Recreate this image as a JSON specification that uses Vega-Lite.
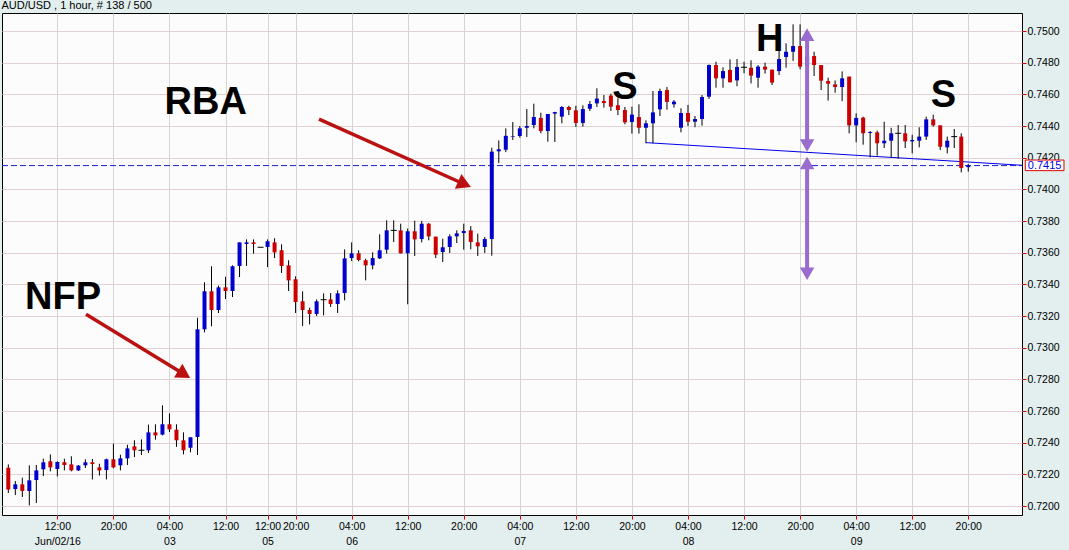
{
"$schema":"https://vega.github.io/schema/vega-lite/v6.json",
"width":1020,"height":502,
"autosize":{"type":"none"},
"padding":{"left":2,"top":13,"right":47,"bottom":35},
"background":"#e3eeee",
"title":{"text":"AUD/USD , 1 hour, # 138 / 500","anchor":"start","fontSize":11,"fontWeight":"normal","font":"Liberation Sans","offset":2,"color":"#000000"},
"config":{"view":{"stroke":"#000000","strokeWidth":1,"fill":"#fcfcfc"},
"axis":{"domain":false,"grid":true,"gridWidth":1,"tickColor":"#e00000","tickSize":4,"labelFont":"Liberation Sans","labelFontSize":10.5,"labelColor":"#000000","labelOverlap":false}},
"datasets":{"candles":[
{"i":0,"o":0.72242,"h":0.72263,"l":0.72082,"c":0.72105},
{"i":1,"o":0.72107,"h":0.72158,"l":0.72069,"c":0.72137},
{"i":2,"o":0.72137,"h":0.72179,"l":0.72057,"c":0.72095},
{"i":3,"o":0.72095,"h":0.72257,"l":0.72004,"c":0.72162},
{"i":4,"o":0.72164,"h":0.72259,"l":0.72019,"c":0.72225},
{"i":5,"o":0.72232,"h":0.72299,"l":0.72189,"c":0.72276},
{"i":6,"o":0.72282,"h":0.72326,"l":0.72219,"c":0.72244},
{"i":7,"o":0.72234,"h":0.72282,"l":0.72187,"c":0.72278},
{"i":8,"o":0.72276,"h":0.72299,"l":0.72225,"c":0.72259},
{"i":9,"o":0.72263,"h":0.72314,"l":0.72219,"c":0.72225},
{"i":10,"o":0.72225,"h":0.72259,"l":0.72221,"c":0.72255},
{"i":11,"o":0.72257,"h":0.72295,"l":0.7224,"c":0.72276},
{"i":12,"o":0.72276,"h":0.72297,"l":0.72168,"c":0.72265},
{"i":13,"o":0.72244,"h":0.72267,"l":0.72192,"c":0.72225},
{"i":14,"o":0.72227,"h":0.72299,"l":0.72168,"c":0.72295},
{"i":15,"o":0.72295,"h":0.72394,"l":0.72238,"c":0.72244},
{"i":16,"o":0.72257,"h":0.72324,"l":0.72225,"c":0.72301},
{"i":17,"o":0.72301,"h":0.72387,"l":0.72259,"c":0.72364},
{"i":18,"o":0.72377,"h":0.72415,"l":0.72309,"c":0.72352},
{"i":19,"o":0.72352,"h":0.72421,"l":0.72322,"c":0.72352},
{"i":20,"o":0.72352,"h":0.72514,"l":0.72335,"c":0.72465},
{"i":21,"o":0.72465,"h":0.72516,"l":0.72419,"c":0.72446},
{"i":22,"o":0.72451,"h":0.72636,"l":0.72446,"c":0.72516},
{"i":23,"o":0.72516,"h":0.72585,"l":0.72467,"c":0.72484},
{"i":24,"o":0.72482,"h":0.72516,"l":0.72373,"c":0.72415},
{"i":25,"o":0.72415,"h":0.72465,"l":0.72326,"c":0.72352},
{"i":26,"o":0.72368,"h":0.72434,"l":0.72339,"c":0.72434},
{"i":27,"o":0.72436,"h":0.73189,"l":0.72322,"c":0.73116},
{"i":28,"o":0.73116,"h":0.73413,"l":0.73097,"c":0.73356},
{"i":29,"o":0.73356,"h":0.73514,"l":0.73135,"c":0.73238},
{"i":30,"o":0.73238,"h":0.73392,"l":0.73219,"c":0.73381},
{"i":31,"o":0.73381,"h":0.73448,"l":0.73307,"c":0.73358},
{"i":32,"o":0.73358,"h":0.7352,"l":0.7332,"c":0.73514},
{"i":33,"o":0.73516,"h":0.73665,"l":0.73446,"c":0.73665},
{"i":34,"o":0.73655,"h":0.73684,"l":0.73516,"c":0.73665},
{"i":35,"o":0.73665,"h":0.73684,"l":0.73594,"c":0.73655},
{"i":36,"o":0.73634,"h":0.73634,"l":0.73634,"c":0.73634},
{"i":37,"o":0.73636,"h":0.73684,"l":0.73509,"c":0.73672},
{"i":38,"o":0.73665,"h":0.73691,"l":0.73566,"c":0.73602},
{"i":39,"o":0.73615,"h":0.73653,"l":0.73472,"c":0.73516},
{"i":40,"o":0.7352,"h":0.73552,"l":0.73358,"c":0.73425},
{"i":41,"o":0.73432,"h":0.73451,"l":0.73219,"c":0.73288},
{"i":42,"o":0.73293,"h":0.73356,"l":0.73137,"c":0.73238},
{"i":43,"o":0.73238,"h":0.73253,"l":0.73147,"c":0.73213},
{"i":44,"o":0.73213,"h":0.73305,"l":0.732,"c":0.73293},
{"i":45,"o":0.73303,"h":0.73343,"l":0.73204,"c":0.73303},
{"i":46,"o":0.73305,"h":0.73345,"l":0.73257,"c":0.73276},
{"i":47,"o":0.73276,"h":0.73362,"l":0.73219,"c":0.73343},
{"i":48,"o":0.73345,"h":0.73621,"l":0.73299,"c":0.73564},
{"i":49,"o":0.73566,"h":0.73665,"l":0.73547,"c":0.73596},
{"i":50,"o":0.73596,"h":0.73615,"l":0.73545,"c":0.73554},
{"i":51,"o":0.73552,"h":0.73562,"l":0.73425,"c":0.7352},
{"i":52,"o":0.7352,"h":0.73602,"l":0.73495,"c":0.73566},
{"i":53,"o":0.73564,"h":0.73716,"l":0.7356,"c":0.73615},
{"i":54,"o":0.73619,"h":0.73804,"l":0.73594,"c":0.73741},
{"i":55,"o":0.73741,"h":0.73804,"l":0.73667,"c":0.73741},
{"i":56,"o":0.73741,"h":0.73783,"l":0.73594,"c":0.73596},
{"i":57,"o":0.73596,"h":0.73752,"l":0.73274,"c":0.73735},
{"i":58,"o":0.73735,"h":0.73802,"l":0.73579,"c":0.73684},
{"i":59,"o":0.73686,"h":0.738,"l":0.73665,"c":0.73783},
{"i":60,"o":0.73783,"h":0.73787,"l":0.73678,"c":0.73703},
{"i":61,"o":0.73701,"h":0.73701,"l":0.73566,"c":0.73587},
{"i":62,"o":0.73604,"h":0.73688,"l":0.73541,"c":0.73634},
{"i":63,"o":0.73636,"h":0.73716,"l":0.73598,"c":0.73703},
{"i":64,"o":0.73703,"h":0.73741,"l":0.73661,"c":0.73722},
{"i":65,"o":0.73724,"h":0.73783,"l":0.73619,"c":0.73737},
{"i":66,"o":0.73741,"h":0.73768,"l":0.73621,"c":0.73667},
{"i":67,"o":0.73665,"h":0.7372,"l":0.73579,"c":0.7364},
{"i":68,"o":0.73636,"h":0.73699,"l":0.73598,"c":0.73686},
{"i":69,"o":0.73686,"h":0.74263,"l":0.73581,"c":0.74238},
{"i":70,"o":0.7424,"h":0.74309,"l":0.74166,"c":0.74253},
{"i":71,"o":0.7425,"h":0.74385,"l":0.74235,"c":0.74338},
{"i":72,"o":0.74333,"h":0.74425,"l":0.74312,"c":0.74337},
{"i":73,"o":0.74337,"h":0.744,"l":0.74326,"c":0.74385},
{"i":74,"o":0.74389,"h":0.74507,"l":0.74331,"c":0.744},
{"i":75,"o":0.74406,"h":0.74541,"l":0.74385,"c":0.74457},
{"i":76,"o":0.74451,"h":0.74484,"l":0.74354,"c":0.74368},
{"i":77,"o":0.74368,"h":0.74476,"l":0.74301,"c":0.74476},
{"i":78,"o":0.74478,"h":0.7449,"l":0.74299,"c":0.74488},
{"i":79,"o":0.74459,"h":0.74526,"l":0.74417,"c":0.7452},
{"i":80,"o":0.7452,"h":0.74528,"l":0.74469,"c":0.74501},
{"i":81,"o":0.74499,"h":0.74528,"l":0.74394,"c":0.74419},
{"i":82,"o":0.74419,"h":0.74531,"l":0.74396,"c":0.74507},
{"i":83,"o":0.74509,"h":0.74558,"l":0.74495,"c":0.74539},
{"i":84,"o":0.74543,"h":0.74638,"l":0.7452,"c":0.74573},
{"i":85,"o":0.74558,"h":0.74596,"l":0.74516,"c":0.74545},
{"i":86,"o":0.74592,"h":0.74604,"l":0.74495,"c":0.74522},
{"i":87,"o":0.74531,"h":0.74575,"l":0.74469,"c":0.74501},
{"i":88,"o":0.74501,"h":0.7452,"l":0.74411,"c":0.74423},
{"i":89,"o":0.74425,"h":0.74522,"l":0.74352,"c":0.74472},
{"i":90,"o":0.74457,"h":0.74537,"l":0.74352,"c":0.74389},
{"i":91,"o":0.74389,"h":0.74436,"l":0.74291,"c":0.74417},
{"i":92,"o":0.74417,"h":0.74621,"l":0.74291,"c":0.74486},
{"i":93,"o":0.74505,"h":0.74636,"l":0.74463,"c":0.74621},
{"i":94,"o":0.74627,"h":0.74646,"l":0.74503,"c":0.74552},
{"i":95,"o":0.74537,"h":0.74564,"l":0.74516,"c":0.74554},
{"i":96,"o":0.74389,"h":0.74512,"l":0.7436,"c":0.74482},
{"i":97,"o":0.74482,"h":0.74533,"l":0.744,"c":0.74427},
{"i":98,"o":0.74427,"h":0.74463,"l":0.74392,"c":0.74444},
{"i":99,"o":0.74444,"h":0.74596,"l":0.74402,"c":0.74583},
{"i":100,"o":0.74585,"h":0.74789,"l":0.74571,"c":0.74785},
{"i":101,"o":0.74785,"h":0.74806,"l":0.74642,"c":0.74701},
{"i":102,"o":0.74701,"h":0.74771,"l":0.74642,"c":0.74747},
{"i":103,"o":0.74754,"h":0.74821,"l":0.74676,"c":0.74676},
{"i":104,"o":0.74688,"h":0.74823,"l":0.74651,"c":0.74773},
{"i":105,"o":0.74771,"h":0.74806,"l":0.74733,"c":0.74771},
{"i":106,"o":0.74768,"h":0.74815,"l":0.74669,"c":0.74718},
{"i":107,"o":0.74705,"h":0.74785,"l":0.74642,"c":0.74775},
{"i":108,"o":0.74775,"h":0.748,"l":0.74731,"c":0.74756},
{"i":109,"o":0.74756,"h":0.74756,"l":0.74659,"c":0.74674},
{"i":110,"o":0.74747,"h":0.7488,"l":0.74722,"c":0.74823},
{"i":111,"o":0.74836,"h":0.74922,"l":0.74768,"c":0.74869},
{"i":112,"o":0.74869,"h":0.75042,"l":0.74811,"c":0.74905},
{"i":113,"o":0.74905,"h":0.75042,"l":0.74758,"c":0.74775},
{"i":114,"o":0.74778,"h":0.7487,"l":0.7476,"c":0.7484},
{"i":115,"o":0.74842,"h":0.74869,"l":0.74716,"c":0.74785},
{"i":116,"o":0.74785,"h":0.74785,"l":0.74627,"c":0.74686},
{"i":117,"o":0.74684,"h":0.74705,"l":0.7456,"c":0.74667},
{"i":118,"o":0.74663,"h":0.74688,"l":0.7461,"c":0.74646},
{"i":119,"o":0.74646,"h":0.74745,"l":0.74557,"c":0.74701},
{"i":120,"o":0.74712,"h":0.74712,"l":0.74354,"c":0.74404},
{"i":121,"o":0.74404,"h":0.7448,"l":0.74297,"c":0.74451},
{"i":122,"o":0.74453,"h":0.74459,"l":0.74282,"c":0.74354},
{"i":123,"o":0.74356,"h":0.74368,"l":0.74202,"c":0.74362},
{"i":124,"o":0.7436,"h":0.74371,"l":0.74213,"c":0.74291},
{"i":125,"o":0.74291,"h":0.74427,"l":0.74261,"c":0.74307},
{"i":126,"o":0.74307,"h":0.74389,"l":0.74198,"c":0.74354},
{"i":127,"o":0.74354,"h":0.74406,"l":0.74194,"c":0.74354},
{"i":128,"o":0.74354,"h":0.74406,"l":0.74261,"c":0.74303},
{"i":129,"o":0.74303,"h":0.74345,"l":0.74227,"c":0.74312},
{"i":130,"o":0.74307,"h":0.74392,"l":0.74265,"c":0.74333},
{"i":131,"o":0.74333,"h":0.74459,"l":0.74312,"c":0.74442},
{"i":132,"o":0.74442,"h":0.74472,"l":0.74396,"c":0.74404},
{"i":133,"o":0.74404,"h":0.74404,"l":0.74248,"c":0.74269},
{"i":134,"o":0.74265,"h":0.74333,"l":0.74227,"c":0.74307},
{"i":135,"o":0.74333,"h":0.74381,"l":0.74261,"c":0.74333},
{"i":136,"o":0.74333,"h":0.74354,"l":0.74107,"c":0.74135},
{"i":137,"o":0.7414,"h":0.7416,"l":0.74112,"c":0.7415}
]},
"encoding":{"x":{"field":"i","type":"quantitative","title":null,"scale":{"domain":[-0.9,144.67],"nice":false,"zero":false,"padding":0},
   "axis":{"orient":"bottom","values":[7,15,23,31,37,41,49,57,65,73,81,89,97,105,113,121,129,137],"gridColor":"#d4d4d4","labelOverlap":false,"labelBound":false,"labelFlush":false,"labelLineHeight":15.5,"labelPadding":2,
   "labelExpr":"datum.value==7 ? ['12:00','Jun/02/16'] : datum.value==23 ? ['04:00','03'] : datum.value==37 ? ['12:00','05'] : datum.value==49 ? ['04:00','06'] : datum.value==73 ? ['04:00','07'] : datum.value==97 ? ['04:00','08'] : datum.value==121 ? ['04:00','09'] : (datum.value==15||datum.value==41||datum.value==65||datum.value==89||datum.value==113||datum.value==137) ? '20:00' : '12:00'"}}},
"layer":[
{"data":{"values":[{"i":-0.9,"i2":144.67,"p":0.7415}]},
 "mark":{"type":"rule","color":"#2020cc","strokeWidth":1,"strokeDash":[6,3]},
 "encoding":{"x2":{"field":"i2"},
  "y":{"field":"p","type":"quantitative","title":null,"scale":{"domain":[0.719432,0.751137],"nice":false,"zero":false,"padding":0},"axis":{"orient":"right","values":[0.72,0.722,0.724,0.726,0.728,0.73,0.732,0.734,0.736,0.738,0.74,0.742,0.744,0.746,0.748,0.75],"format":".4f","gridColor":"#e2d0d4","labelPadding":1,"labelOverlap":false,"labelBound":false,"labelFlush":false}}}},
{"data":{"values":[{"i":91,"p":0.74295},{"i":144.67,"p":0.74152}]},
 "mark":{"type":"line","color":"#0000ee","strokeWidth":1},
 "encoding":{"y":{"field":"p","type":"quantitative","title":null,"scale":{"domain":[0.719432,0.751137],"nice":false,"zero":false,"padding":0},"axis":{"orient":"right","values":[0.72,0.722,0.724,0.726,0.728,0.73,0.732,0.734,0.736,0.738,0.74,0.742,0.744,0.746,0.748,0.75],"format":".4f","gridColor":"#e2d0d4","labelPadding":1,"labelOverlap":false,"labelBound":false,"labelFlush":false}}}},
{"data":{"name":"candles"},
 "mark":{"type":"rule","color":"#000000","strokeWidth":1},
 "encoding":{"y":{"field":"l","type":"quantitative","title":null,"scale":{"domain":[0.719432,0.751137],"nice":false,"zero":false,"padding":0},"axis":{"orient":"right","values":[0.72,0.722,0.724,0.726,0.728,0.73,0.732,0.734,0.736,0.738,0.74,0.742,0.744,0.746,0.748,0.75],"format":".4f","gridColor":"#e2d0d4","labelPadding":1,"labelOverlap":false,"labelBound":false,"labelFlush":false}},"y2":{"field":"h"}}},
{"data":{"name":"candles"},"transform":[{"filter":"datum.o != datum.c"}],
 "mark":{"type":"bar","size":4},
 "encoding":{"y":{"field":"o","type":"quantitative","title":null,"scale":{"domain":[0.719432,0.751137],"nice":false,"zero":false,"padding":0},"axis":{"orient":"right","values":[0.72,0.722,0.724,0.726,0.728,0.73,0.732,0.734,0.736,0.738,0.74,0.742,0.744,0.746,0.748,0.75],"format":".4f","gridColor":"#e2d0d4","labelPadding":1,"labelOverlap":false,"labelBound":false,"labelFlush":false}},"y2":{"field":"c"},
  "color":{"condition":{"test":"datum.c > datum.o","value":"#0000cc"},"value":"#cc0000"}}},
{"data":{"name":"candles"},"transform":[{"filter":"datum.o == datum.c"}],
 "mark":{"type":"tick","orient":"horizontal","size":6,"thickness":1,"color":"#000000","opacity":1},
 "encoding":{"y":{"field":"c","type":"quantitative","title":null,"scale":{"domain":[0.719432,0.751137],"nice":false,"zero":false,"padding":0},"axis":{"orient":"right","values":[0.72,0.722,0.724,0.726,0.728,0.73,0.732,0.734,0.736,0.738,0.74,0.742,0.744,0.746,0.748,0.75],"format":".4f","gridColor":"#e2d0d4","labelPadding":1,"labelOverlap":false,"labelBound":false,"labelFlush":false}}}},
{"data":{"values":[{"i":114,"p":0.74977,"p2":0.74277},{"i":114,"p":0.74166,"p2":0.73467}]},
 "mark":{"type":"rule","color":"#9a6ccf","strokeWidth":4},
 "encoding":{"y":{"field":"p","type":"quantitative","title":null,"scale":{"domain":[0.719432,0.751137],"nice":false,"zero":false,"padding":0},"axis":{"orient":"right","values":[0.72,0.722,0.724,0.726,0.728,0.73,0.732,0.734,0.736,0.738,0.74,0.742,0.744,0.746,0.748,0.75],"format":".4f","gridColor":"#e2d0d4","labelPadding":1,"labelOverlap":false,"labelBound":false,"labelFlush":false}},"y2":{"field":"p2"}}},
{"data":{"values":[{"i":114,"p":0.74977},{"i":114,"p":0.74166}]},
 "mark":{"type":"point","shape":"triangle-up","filled":true,"size":210,"color":"#9a6ccf","opacity":1},
 "encoding":{"y":{"field":"p","type":"quantitative","title":null,"scale":{"domain":[0.719432,0.751137],"nice":false,"zero":false,"padding":0},"axis":{"orient":"right","values":[0.72,0.722,0.724,0.726,0.728,0.73,0.732,0.734,0.736,0.738,0.74,0.742,0.744,0.746,0.748,0.75],"format":".4f","gridColor":"#e2d0d4","labelPadding":1,"labelOverlap":false,"labelBound":false,"labelFlush":false}}}},
{"data":{"values":[{"i":114,"p":0.74277},{"i":114,"p":0.73467}]},
 "mark":{"type":"point","shape":"triangle-down","filled":true,"size":210,"color":"#9a6ccf","opacity":1},
 "encoding":{"y":{"field":"p","type":"quantitative","title":null,"scale":{"domain":[0.719432,0.751137],"nice":false,"zero":false,"padding":0},"axis":{"orient":"right","values":[0.72,0.722,0.724,0.726,0.728,0.73,0.732,0.734,0.736,0.738,0.74,0.742,0.744,0.746,0.748,0.75],"format":".4f","gridColor":"#e2d0d4","labelPadding":1,"labelOverlap":false,"labelBound":false,"labelFlush":false}}}},
{"data":{"values":[{"i":11.09,"p":0.73211,"i2":25.1,"p2":0.72832},{"i":44.34,"p":0.74444,"i2":65.11,"p2":0.74032}]},
 "mark":{"type":"rule","color":"#bb1111","strokeWidth":3.5},
 "encoding":{"x2":{"field":"i2"},"y":{"field":"p","type":"quantitative","title":null,"scale":{"domain":[0.719432,0.751137],"nice":false,"zero":false,"padding":0},"axis":{"orient":"right","values":[0.72,0.722,0.724,0.726,0.728,0.73,0.732,0.734,0.736,0.738,0.74,0.742,0.744,0.746,0.748,0.75],"format":".4f","gridColor":"#e2d0d4","labelPadding":1,"labelOverlap":false,"labelBound":false,"labelFlush":false}},"y2":{"field":"p2"}}},
{"data":{"values":[{"i":25.1,"p":0.72832}]},
 "mark":{"type":"point","shape":"triangle-right","filled":true,"size":260,"angle":31.4,"color":"#bb1111","opacity":1},
 "encoding":{"y":{"field":"p","type":"quantitative","title":null,"scale":{"domain":[0.719432,0.751137],"nice":false,"zero":false,"padding":0},"axis":{"orient":"right","values":[0.72,0.722,0.724,0.726,0.728,0.73,0.732,0.734,0.736,0.738,0.74,0.742,0.744,0.746,0.748,0.75],"format":".4f","gridColor":"#e2d0d4","labelPadding":1,"labelOverlap":false,"labelBound":false,"labelFlush":false}}}},
{"data":{"values":[{"i":65.11,"p":0.74032}]},
 "mark":{"type":"point","shape":"triangle-right","filled":true,"size":260,"angle":23.8,"color":"#bb1111","opacity":1},
 "encoding":{"y":{"field":"p","type":"quantitative","title":null,"scale":{"domain":[0.719432,0.751137],"nice":false,"zero":false,"padding":0},"axis":{"orient":"right","values":[0.72,0.722,0.724,0.726,0.728,0.73,0.732,0.734,0.736,0.738,0.74,0.742,0.744,0.746,0.748,0.75],"format":".4f","gridColor":"#e2d0d4","labelPadding":1,"labelOverlap":false,"labelBound":false,"labelFlush":false}}}},
{"data":{"values":[{"i":2.38,"p":0.73242,"t":"NFP"},{"i":22.3,"p":0.74476,"t":"RBA"}]},
 "mark":{"type":"text","align":"left","baseline":"alphabetic","font":"Liberation Sans","fontWeight":"bold","fontSize":38,"color":"#000000"},
 "encoding":{"y":{"field":"p","type":"quantitative","title":null,"scale":{"domain":[0.719432,0.751137],"nice":false,"zero":false,"padding":0},"axis":{"orient":"right","values":[0.72,0.722,0.724,0.726,0.728,0.73,0.732,0.734,0.736,0.738,0.74,0.742,0.744,0.746,0.748,0.75],"format":".4f","gridColor":"#e2d0d4","labelPadding":1,"labelOverlap":false,"labelBound":false,"labelFlush":false}},"text":{"field":"t"}}},
{"data":{"values":[{"i":88.0,"p":0.74571,"t":"S"},{"i":108.66,"p":0.74874,"t":"H"},{"i":133.44,"p":0.7452,"t":"S"}]},
 "mark":{"type":"text","align":"center","baseline":"alphabetic","font":"Liberation Sans","fontWeight":"bold","fontSize":38,"color":"#000000"},
 "encoding":{"y":{"field":"p","type":"quantitative","title":null,"scale":{"domain":[0.719432,0.751137],"nice":false,"zero":false,"padding":0},"axis":{"orient":"right","values":[0.72,0.722,0.724,0.726,0.728,0.73,0.732,0.734,0.736,0.738,0.74,0.742,0.744,0.746,0.748,0.75],"format":".4f","gridColor":"#e2d0d4","labelPadding":1,"labelOverlap":false,"labelBound":false,"labelFlush":false}},"text":{"field":"t"}}},
{"data":{"values":[{"i":145.14,"i2":150.66,"p":0.74185,"p2":0.74118}]},
 "mark":{"type":"rect","fill":"#ffffff","stroke":"#e00000","strokeWidth":1},
 "encoding":{"x2":{"field":"i2"},"y":{"field":"p","type":"quantitative","title":null,"scale":{"domain":[0.719432,0.751137],"nice":false,"zero":false,"padding":0},"axis":{"orient":"right","values":[0.72,0.722,0.724,0.726,0.728,0.73,0.732,0.734,0.736,0.738,0.74,0.742,0.744,0.746,0.748,0.75],"format":".4f","gridColor":"#e2d0d4","labelPadding":1,"labelOverlap":false,"labelBound":false,"labelFlush":false}},"y2":{"field":"p2"}}},
{"data":{"values":[{"i":145.5,"p":0.7415,"t":"0.7415"}]},
 "mark":{"type":"text","align":"left","baseline":"middle","font":"Liberation Sans","fontSize":11,"color":"#0000ee"},
 "encoding":{"y":{"field":"p","type":"quantitative","title":null,"scale":{"domain":[0.719432,0.751137],"nice":false,"zero":false,"padding":0},"axis":{"orient":"right","values":[0.72,0.722,0.724,0.726,0.728,0.73,0.732,0.734,0.736,0.738,0.74,0.742,0.744,0.746,0.748,0.75],"format":".4f","gridColor":"#e2d0d4","labelPadding":1,"labelOverlap":false,"labelBound":false,"labelFlush":false}},"text":{"field":"t"}}}
]
}
